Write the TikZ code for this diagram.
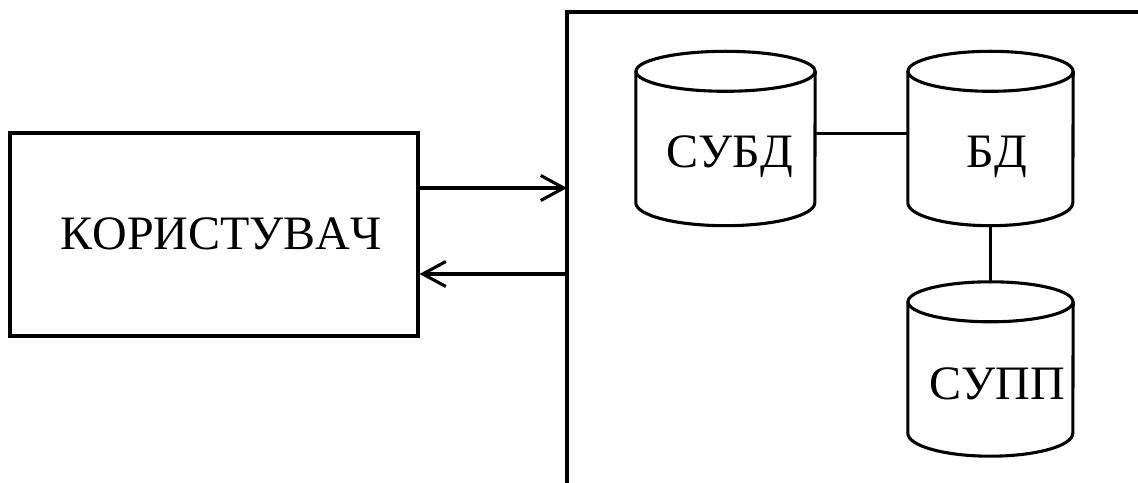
\documentclass[tikz,border=0pt]{standalone}
\usepackage{fontspec}
\setmainfont[Kerning=Off]{Liberation Serif}
\usetikzlibrary{arrows.meta}

\tikzset{
  thinline/.style={line width=3.1pt, line cap=round, line join=round},
  frameline/.style={line width=3.8pt, line join=miter},
  userbox/.style={draw, line width=3.1pt, line join=miter, minimum width=408,
                  minimum height=203, inner sep=0pt},
  bigtext/.style={anchor=base, inner sep=0pt, font=\fontsize{48}{52}\selectfont},
  dbbox/.style={draw=none, inner sep=0pt, minimum height=174},
  flow/.style={thinline, -{Straight Barb[length=23pt,width=25pt]}},
  link/.style={thinline}
}

% outline of a database cylinder around the empty node #1 with x radius #2
\newcommand\dbshape[2]{%
  \draw[thinline] ([yshift=-20]#1.north) ellipse[x radius=#2, y radius=20];
  \draw[thinline] ([yshift=-20]#1.north west) -- ([yshift=23]#1.south west)
    arc[start angle=180, end angle=360, x radius=#2, y radius=23]
    -- ([yshift=-20]#1.north east);
}

\begin{document}
\begin{tikzpicture}[x=1pt, y=1pt]
  \useasboundingbox (0,0) rectangle (1138,482);

  % user
  \node[userbox] (user) at (214,247.5) {};
  \node[bigtext] (usert) at (221,232) {КОРИСТУВАЧ};

  % system boundary, open at the bottom and on the right
  \coordinate (fb) at (567,-6);
  \coordinate (ft) at (567,470);
  \coordinate (fr) at (1145,470);
  \draw[frameline] (fb) -- (ft) -- (fr);

  % request and response
  \coordinate (u1) at ([yshift=46.5]user.east);
  \coordinate (u2) at ([yshift=-39.5]user.east);
  \draw[flow] (u1) -- (u1 -| ft);
  \draw[flow] (u2 -| ft) -- (u2);

  % database components
  \node[dbbox, minimum width=179] (subd) at (725.5,343.5) {};
  \node[dbbox, minimum width=165] (bd)   at (990.5,343.5) {};
  \node[dbbox, minimum width=165] (supp) at (990.5,113) {};
  \dbshape{subd}{89.5}
  \dbshape{bd}{82.5}
  \dbshape{supp}{82.5}

  \node[bigtext] (subdt) at (730,314) {СУБД};
  \node[bigtext] (bdt)   at (997,314) {БД};
  \node[bigtext] (suppt) at (997,82)  {СУПП};

  % links between components
  \draw[link] ([yshift=5]subd.east) -- ([yshift=5]bd.west);
  \draw[link] (bd.south) -- (supp.north);
\end{tikzpicture}
\end{document}
